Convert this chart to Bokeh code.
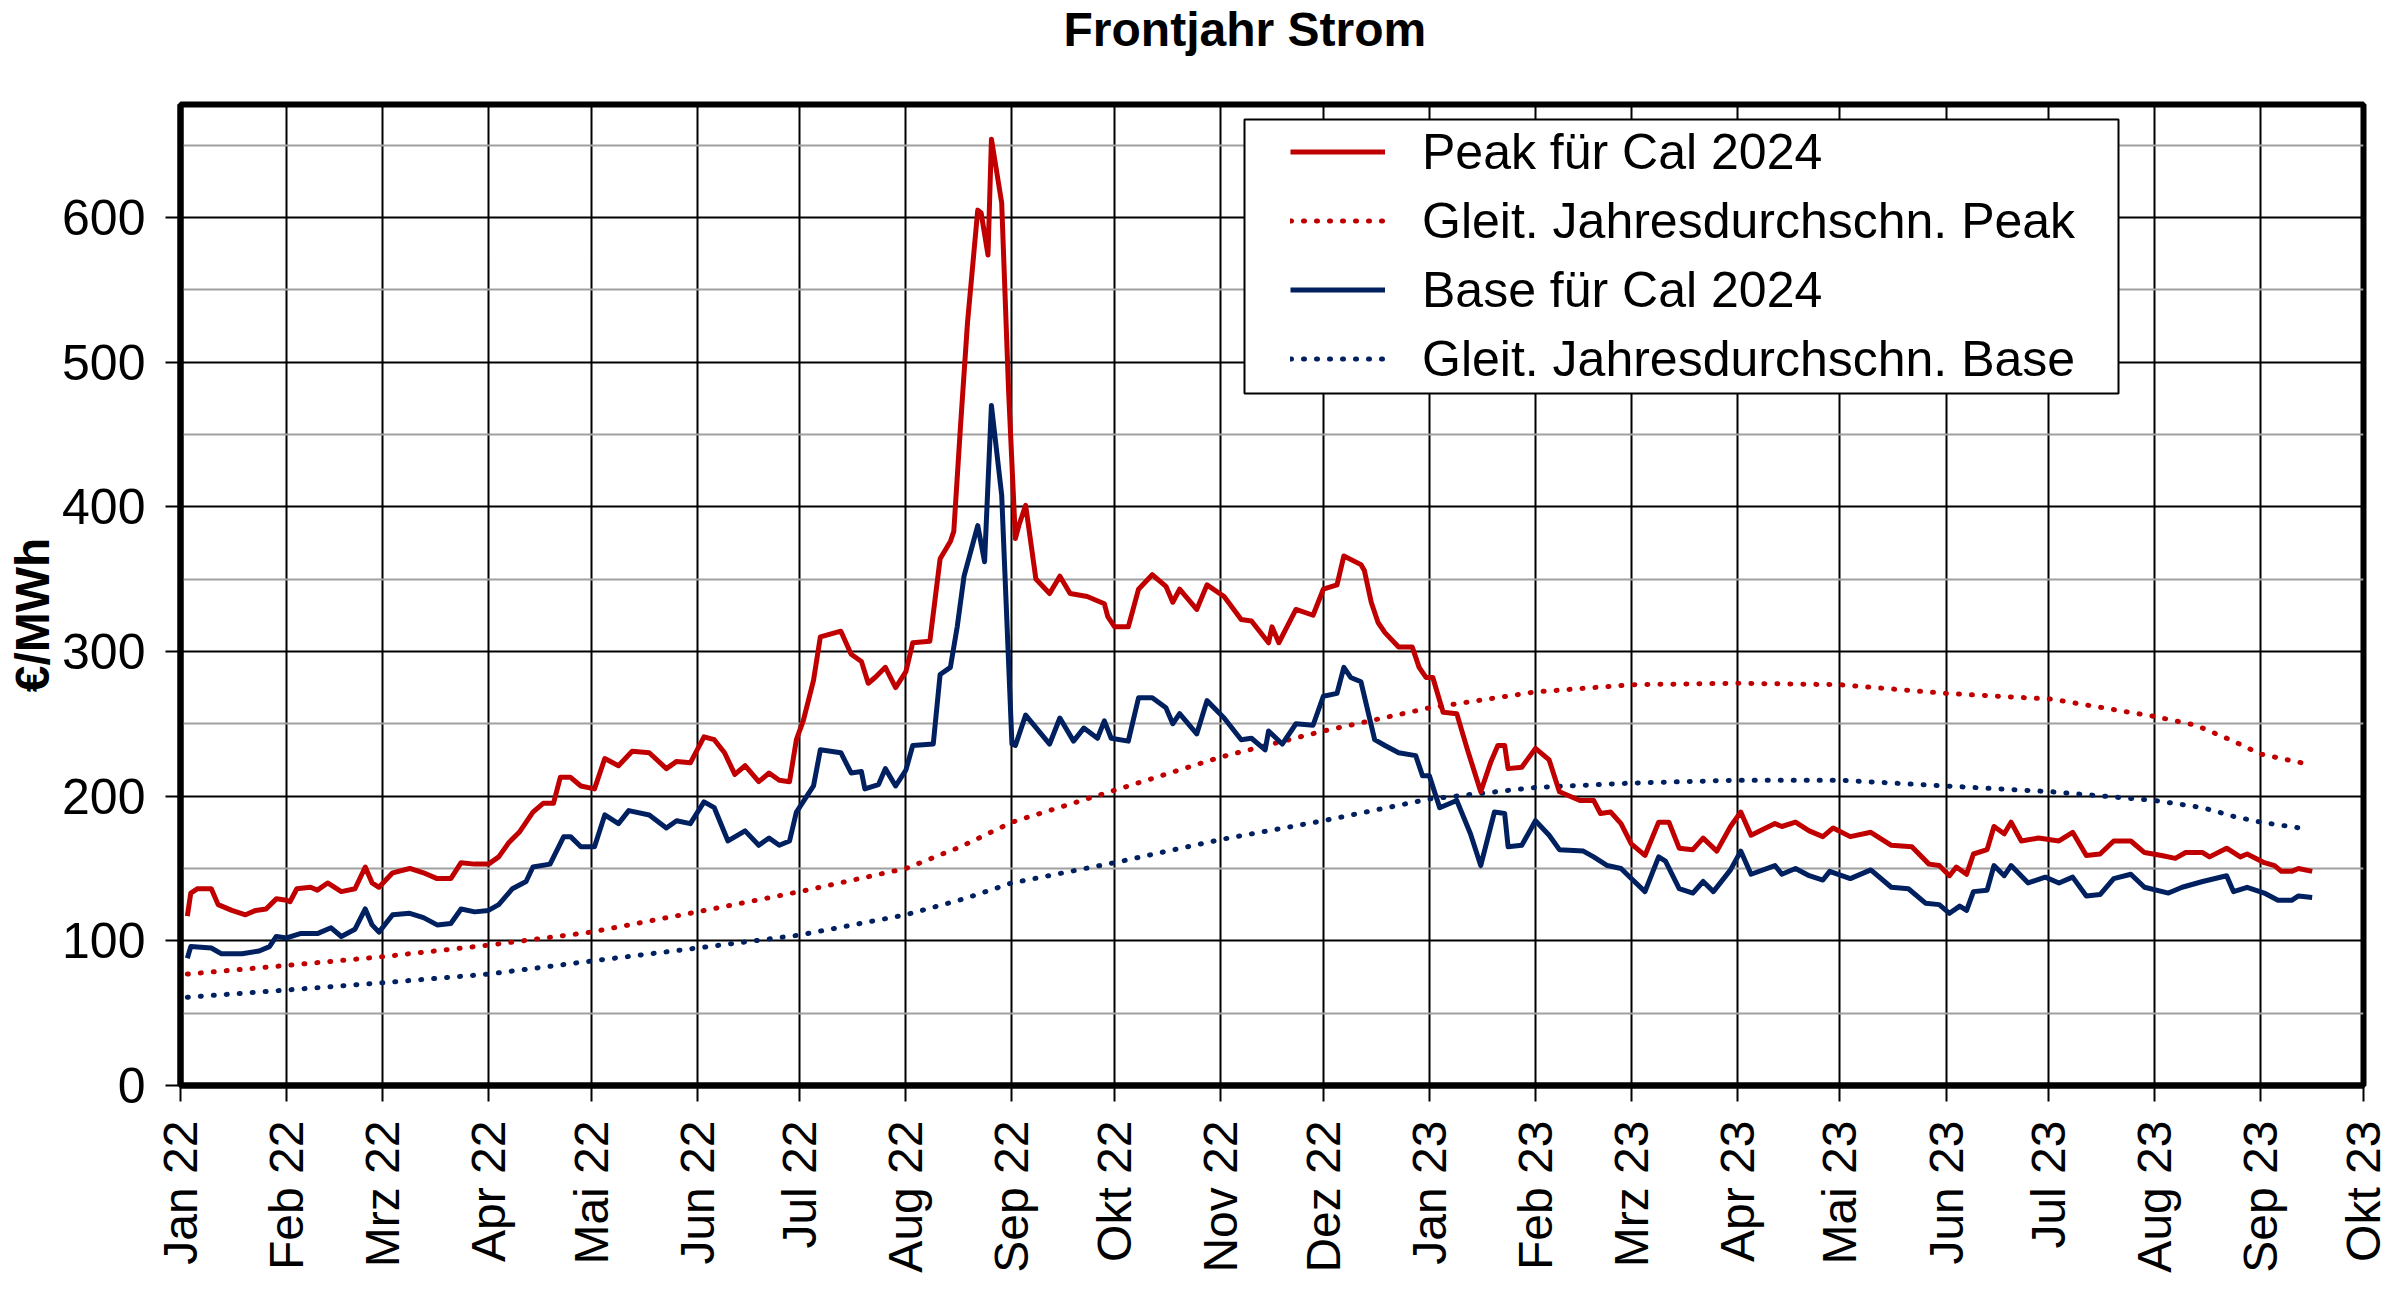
import math
import pandas as pd
from bokeh.plotting import figure
from bokeh.models import FixedTicker, Legend, LegendItem, Range1d, BoxAnnotation, Title
from bokeh.embed import file_html
from bokeh.resources import INLINE

# ---------------- data ----------------
title_text = "Frontjahr Strom"
y_label = "€/MWh"
start_date = "2022-01-01"
month_starts = pd.date_range("2022-01-01", "2023-10-01", freq="MS")
month_labels = ["Jan 22", "Feb 22", "Mrz 22", "Apr 22", "Mai 22", "Jun 22", "Jul 22",
                "Aug 22", "Sep 22", "Okt 22", "Nov 22", "Dez 22", "Jan 23", "Feb 23",
                "Mrz 23", "Apr 23", "Mai 23", "Jun 23", "Jul 23", "Aug 23", "Sep 23", "Okt 23"]
y_ticks = [0, 100, 200, 300, 400, 500, 600]
y_minor = [50, 150, 250, 350, 450, 550, 650]

# days since 1 Jan 2022
peak_day = [2, 3, 5, 9, 11, 15, 19, 22, 25, 28, 31, 32, 34, 38, 40, 43, 47, 51, 54, 56,
            58, 62, 67, 71, 75, 79, 82, 86, 90, 93, 96, 99, 103, 106, 109, 111, 114, 117,
            121, 124, 128, 132, 137, 142, 145, 149, 153, 156, 159, 162, 165, 169, 172, 175,
            178, 180, 182, 185, 187, 193, 196, 199, 201, 203, 206, 209, 212, 214, 219, 222,
            225, 226, 228, 230, 233, 234, 236, 237, 240, 242, 244, 245, 247, 250, 254, 257,
            260, 265, 270, 271, 273, 277, 280, 284, 288, 290, 292, 297, 300, 305, 310, 313,
            318, 319, 321, 326, 331, 334, 338, 340, 345, 346, 348, 350, 352, 356, 360, 362,
            364, 366, 369, 373, 376, 380, 383, 385, 387, 388, 392, 396, 400, 403, 409, 413,
            415, 418, 421, 424, 428, 432, 435, 438, 442, 445, 449, 453, 456, 459, 466, 468,
            472, 476, 480, 483, 488, 494, 500, 506, 511, 514, 517, 519, 522, 524, 528, 530,
            533, 535, 538, 543, 549, 553, 557, 561, 565, 570, 574, 579, 583, 586, 591, 593,
            598, 602, 604, 609, 612, 614, 617, 619, 623]
peak_val = [117, 133, 136, 136, 125, 121, 118, 121, 122, 129, 128, 127, 136, 137, 135, 140,
            134, 136, 151, 140, 137, 147, 150, 147, 143, 143, 154, 153, 153, 158, 168, 175,
            189, 195, 195, 213, 213, 207, 205, 226, 221, 231, 230, 219, 224, 223, 241, 239,
            230, 215, 221, 210, 216, 211, 210, 239, 252, 280, 310, 314, 298, 293, 278, 282,
            289, 275, 286, 306, 307, 364, 376, 383, 457, 527, 605, 603, 574, 654, 610, 481,
            378, 387, 401, 350, 340, 352, 340, 338, 333, 324, 317, 317, 343, 353, 345, 334,
            343, 329, 346, 338, 322, 321, 306, 317, 306, 329, 325, 343, 346, 366, 360, 356,
            334, 320, 313, 303, 303, 289, 282, 282, 258, 257, 233, 203, 224, 235, 235, 219,
            220, 233, 225, 203, 197, 197, 188, 189, 181, 167, 159, 182, 182, 164, 163, 171,
            162, 179, 189, 173, 181, 179, 182, 176, 172, 178, 172, 175, 166, 165, 153, 152,
            145, 151, 146, 160, 163, 179, 174, 182, 169, 171, 169, 175, 159, 160, 169, 169,
            161, 159, 157, 161, 161, 158, 164, 158, 160, 154, 152, 148, 148, 150, 148]

base_day = [2, 3, 9, 12, 18, 23, 26, 28, 31, 35, 40, 44, 47, 51, 54, 56, 58, 62, 67, 71,
            75, 79, 82, 86, 90, 93, 97, 101, 103, 108, 112, 114, 117, 121, 124, 128, 131,
            137, 142, 145, 149, 153, 156, 160, 165, 169, 172, 175, 178, 180, 185, 187, 193,
            196, 199, 200, 204, 206, 209, 212, 214, 220, 222, 225, 227, 229, 233, 235, 237,
            240, 243, 244, 247, 254, 257, 261, 264, 268, 270, 272, 277, 280, 284, 288, 290,
            292, 297, 300, 305, 310, 313, 317, 318, 322, 326, 331, 334, 338, 340, 342, 345,
            349, 352, 356, 361, 363, 365, 368, 373, 377, 380, 384, 387, 388, 392, 396, 400,
            403, 410, 413, 417, 421, 424, 428, 432, 434, 438, 442, 445, 448, 453, 456, 459,
            466, 468, 472, 476, 480, 482, 488, 494, 500, 505, 510, 514, 517, 520, 522, 524,
            528, 530, 533, 535, 540, 545, 549, 553, 557, 561, 565, 570, 574, 581, 585, 591,
            598, 600, 604, 609, 613, 617, 619, 623]
base_val = [88, 96, 95, 91, 91, 93, 96, 103, 102, 105, 105, 109, 103, 108, 122, 111, 106,
            118, 119, 116, 111, 112, 122, 120, 121, 125, 136, 141, 151, 153, 172, 172, 165,
            165, 187, 181, 190, 187, 178, 183, 181, 196, 192, 169, 176, 166, 171, 166, 169,
            189, 207, 232, 230, 216, 217, 205, 208, 219, 207, 218, 235, 236, 284, 289, 317,
            352, 387, 362, 470, 408, 236, 235, 256, 236, 254, 238, 247, 240, 252, 240, 238,
            268, 268, 261, 250, 257, 243, 266, 254, 239, 240, 232, 245, 236, 250, 249, 269,
            271, 289, 282, 279, 239, 235, 230, 228, 214, 214, 192, 197, 174, 152, 189, 188,
            165, 166, 183, 173, 163, 162, 158, 152, 150, 143, 134, 158, 155, 136, 133, 141,
            134, 149, 162, 146, 152, 146, 150, 145, 142, 148, 143, 149, 137, 136, 126, 125,
            119, 124, 121, 134, 135, 152, 145, 152, 140, 144, 140, 144, 131, 132, 143, 146,
            137, 133, 137, 141, 145, 134, 137, 133, 128, 128, 131, 130]

peak_ma_day = [2, 31, 59, 90, 120, 151, 181, 212, 228, 243, 273, 304, 334, 365, 396, 424,
               455, 485, 516, 547, 562, 577, 589, 600, 608, 622]
peak_ma_val = [77, 83, 89, 97, 106, 120, 134, 150, 165, 182, 204, 227, 245, 261, 272, 277,
               278, 277, 271, 267, 261, 255, 249, 238, 229, 222]

base_ma_day = [2, 31, 59, 90, 120, 151, 181, 212, 229, 243, 273, 304, 334, 365, 396, 424,
               455, 485, 516, 547, 562, 577, 591, 600, 608, 622]
base_ma_val = [61, 66, 71, 77, 86, 95, 104, 118, 129, 140, 154, 170, 183, 198, 206, 209,
               211, 211, 207, 203, 200, 197, 192, 186, 182, 177]

series_names = ["Peak für Cal 2024", "Gleit. Jahresdurchschn. Peak",
                "Base für Cal 2024", "Gleit. Jahresdurchschn. Base"]

# ---------------- styling ----------------
RED = "#C00000"
BLUE = "#002060"
FONT = "Liberation Sans"

month_days = [int((d - pd.Timestamp(start_date)).days) for d in month_starts]

W, H = 2392, 1286
MB_TOP, MB_BOTTOM = 100, 201

p = figure(width=W, height=H, output_backend="svg", toolbar_location=None,
           x_range=Range1d(month_days[0], month_days[-1]),
           y_range=Range1d(0, 678),
           min_border_left=180, min_border_right=29, min_border_top=MB_TOP,
           min_border_bottom=MB_BOTTOM, title=None)

p.background_fill_color = "white"
p.border_fill_color = "white"
p.outline_line_color = "black"
p.outline_line_width = 6

# chart title; a blank second line lifts the title away from the frame
chart_title = Title(text=title_text + "\n\u00a0", align="left", offset=883,
                    vertical_align="bottom", standoff=0, text_font=FONT,
                    text_font_style="bold", text_font_size="48px",
                    text_line_height=0.92, text_color="black")
p.add_layout(chart_title, "above")

# x axis
xt = FixedTicker(ticks=month_days)
xaxis = p.below[0]
xaxis.ticker = xt
xaxis.major_label_overrides = {d: lab for d, lab in zip(month_days, month_labels)}
xaxis.major_label_orientation = math.pi / 2
xaxis.major_label_text_font = FONT
xaxis.major_label_text_font_size = "48px"
xaxis.major_label_text_color = "black"
xaxis.major_label_standoff = 19
xaxis.major_tick_out = 16
xaxis.major_tick_in = 0
xaxis.major_tick_line_width = 2
xaxis.major_tick_line_color = "black"
xaxis.minor_tick_out = 0
xaxis.minor_tick_in = 0
xaxis.axis_line_width = 6
xaxis.axis_line_color = "black"

# y axis
yt = FixedTicker(ticks=y_ticks, minor_ticks=y_minor)
p.yaxis.ticker = yt
p.yaxis.axis_label = y_label + "\u00a0\u00a0\u00a0"
p.yaxis.axis_label_text_font = FONT
p.yaxis.axis_label_text_font_style = "bold"
p.yaxis.axis_label_text_font_size = "48px"
p.yaxis.axis_label_text_color = "black"
p.yaxis.axis_label_standoff = 0
p.yaxis.major_label_text_font = FONT
p.yaxis.major_label_text_font_size = "50px"
p.yaxis.major_label_text_color = "black"
p.yaxis.major_label_standoff = 20
p.yaxis.major_tick_out = 15
p.yaxis.major_tick_in = 0
p.yaxis.major_tick_line_width = 2
p.yaxis.major_tick_line_color = "black"
p.yaxis.minor_tick_out = 0
p.yaxis.minor_tick_in = 0
p.yaxis.axis_line_width = 6
p.yaxis.axis_line_color = "black"

# grids
p.xgrid.ticker = xt
p.xgrid.grid_line_color = "black"
p.xgrid.grid_line_width = 2
p.ygrid.ticker = yt
p.ygrid.grid_line_color = "black"
p.ygrid.grid_line_width = 2
p.ygrid.minor_grid_line_color = "#A0A0A0"
p.ygrid.minor_grid_line_width = 2

# lines
r_pma = p.line(peak_ma_day, peak_ma_val, line_color=RED, line_width=5,
               line_dash="1 12", line_cap="round")
r_bma = p.line(base_ma_day, base_ma_val, line_color=BLUE, line_width=5,
               line_dash="1 12", line_cap="round")
r_base = p.line(base_day, base_val, line_color=BLUE, line_width=5, line_join="round")
r_peak = p.line(peak_day, peak_val, line_color=RED, line_width=5, line_join="round")

# legend frame (screen units, relative to the plot frame)
legend_box = BoxAnnotation(left=1064, right=1938, bottom=692, top=966,
                           left_units="screen", right_units="screen",
                           top_units="screen", bottom_units="screen",
                           fill_color="white", fill_alpha=1.0,
                           line_color="black", line_width=2, line_alpha=1.0)
p.add_layout(legend_box)

legend = Legend(items=[LegendItem(label=series_names[0], renderers=[r_peak]),
                       LegendItem(label=series_names[1], renderers=[r_pma]),
                       LegendItem(label=series_names[2], renderers=[r_base]),
                       LegendItem(label=series_names[3], renderers=[r_bma])],
                location=(1110, 692))
legend.label_text_font = FONT
legend.label_text_font_size = "50px"
legend.label_text_color = "black"
legend.label_height = 69
legend.glyph_height = 69
legend.glyph_width = 95
legend.label_standoff = 37
legend.padding = 0
legend.spacing = 0
legend.margin = 0
legend.border_line_alpha = 0
legend.background_fill_alpha = 0
p.add_layout(legend)

open("out.html", "w").write(file_html(p, INLINE))
